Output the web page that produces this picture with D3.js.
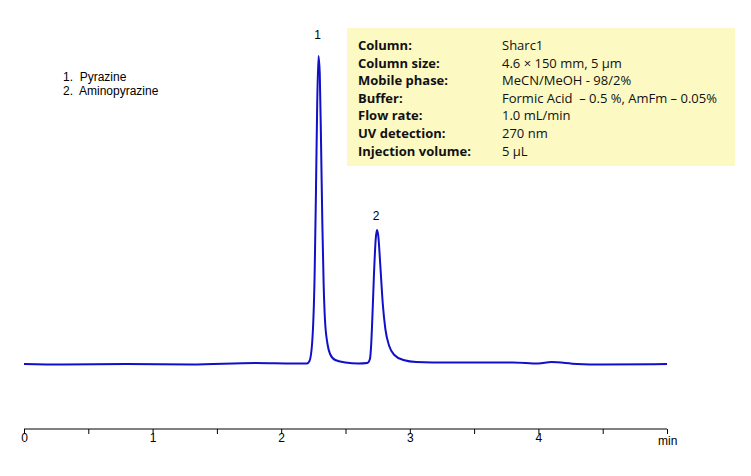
<!DOCTYPE html><html><head><meta charset="utf-8"><script src="https://cdn.jsdelivr.net/npm/d3@7"></script>
<style>body{margin:0;background:#fff}</style></head><body><svg id="c" width="751" height="476"></svg>
<script>
const times=[0,0.3,0.8,1.3,1.8,2.1,2.2,2.22,2.24,2.26,2.27,2.28,2.29,2.30,2.31,2.32,2.33,2.34,2.36,2.38,2.42,2.5,2.6,2.67,2.69,2.70,2.71,2.72,2.735,2.745,2.755,2.77,2.79,2.81,2.84,2.88,2.95,3.05,3.3,3.8,4.0,4.1,4.3,4.5,5];
const signal=[0,-0.5,0,-0.5,1,0.5,0.5,3,20,90,170,260,308,290,220,140,80,45,20,10,4,1.5,0.5,1,5,20,50,85,125,134,128,100,60,35,18,9,4,2,1.5,1.5,0.5,2,0,-0.5,0];
const peakLabels=[{t:2.29,v:308,label:"1",dy:-17},{t:2.745,v:134,label:"2",dy:-10}];
const legendItems=["1.  Pyrazine","2.  Aminopyrazine"];
const condLabels=["Column:","Column size:","Mobile phase:","Buffer:","Flow rate:","UV detection:","Injection volume:"];
const condValues=["Sharc1","4.6 × 150 mm, 5 µm","MeCN/MeOH - 98/2%","Formic Acid  – 0.5 %, AmFm – 0.05%","1.0 mL/min","270 nm","5 µL"];
const xTicks=[0,1,2,3,4];
const svg=d3.select("#c");
const x=d3.scaleLinear().domain([0,5]).range([24,667]);
const y=d3.scaleLinear().domain([-65,335]).range([429,29]);
svg.append("rect").attr("x",347).attr("y",28).attr("width",388).attr("height",138).attr("fill","#fcf9c2");
const g=svg.append("g").attr("font-family","Open Sans, sans-serif").attr("font-size",13).attr("fill","#111");
condLabels.forEach((l,i)=>{g.append("text").attr("x",358).attr("y",50+i*17.6).attr("font-weight","bold").text(l);
 g.append("text").attr("x",502).attr("y",50+i*17.6).attr("xml:space","preserve").style("white-space","pre").text(condValues[i]);});
const ax=svg.append("g").attr("transform","translate(0,"+y(-65)+")").call(d3.axisBottom(x).tickValues(d3.range(0,5.01,0.5)).tickSize(5).tickFormat(d=>xTicks.includes(d)?d:""));
ax.select(".domain").attr("d","M24,0H667");
ax.selectAll("text").attr("font-family","Liberation Sans, Arial").attr("font-size",12).attr("fill","#000").attr("dy","0.45em");
ax.selectAll("line,path").attr("stroke","#000");
svg.append("text").attr("x",658).attr("y",445).attr("font-family","Liberation Sans, Arial").attr("font-size",12).text("min");
svg.append("path").datum(times.map((t,i)=>[t,signal[i]])).attr("fill","none").attr("stroke","#1010c8").attr("stroke-width",2)
 .attr("d",d3.line().x(d=>x(d[0])).y(d=>y(d[1])).curve(d3.curveMonotoneX));
peakLabels.forEach(p=>svg.append("text").attr("x",x(p.t)-1).attr("y",y(p.v)+p.dy).attr("text-anchor","middle").attr("font-family","Liberation Sans, Arial").attr("font-size",12).text(p.label));
legendItems.forEach((l,i)=>svg.append("text").attr("x",63).attr("y",81+i*14).attr("font-family","Liberation Sans, Arial").attr("font-size",12).attr("xml:space","preserve").style("white-space","pre").text(l));
</script></body></html>
